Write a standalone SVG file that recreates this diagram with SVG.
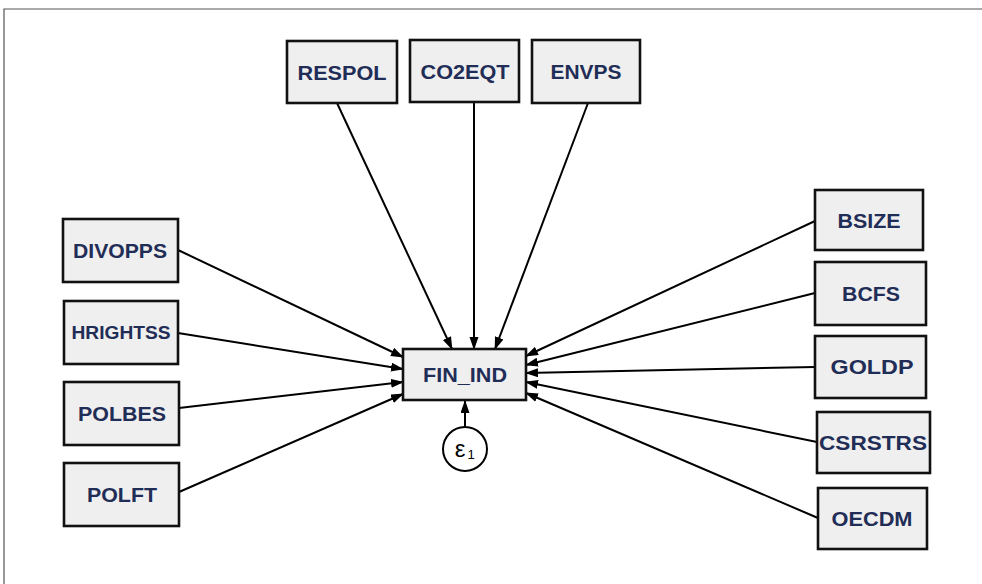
<svg xmlns="http://www.w3.org/2000/svg" width="982" height="584" viewBox="0 0 982 584">
  <style>
    .box { fill: #efefef; stroke: #111; stroke-width: 2.6; }
    .lbl { font-family: "Liberation Sans", Arial, sans-serif; font-weight: bold; font-size: 21px; fill: #1f2d57; text-anchor: middle; }
    .edge { stroke: #000; stroke-width: 2; fill: none; marker-end: url(#arrow); }
    .err { font-family: "Liberation Sans", Arial, sans-serif; fill: #000; }
  </style>
  <defs>
    <marker id="arrow" markerUnits="userSpaceOnUse" markerWidth="13" markerHeight="10" refX="12" refY="4.5" orient="auto">
      <path d="M0,0 L13,4.5 L0,9 z" fill="#000"/>
    </marker>
  </defs>

  <rect width="982" height="584" fill="#fff"/>
  <!-- outer frame -->
  <path d="M4,584 V9 H982" fill="none" stroke="#555" stroke-width="1.2"/>

  <g id="connectors">
    <line class="edge" x1="337" y1="103" x2="452" y2="349"/>
    <line class="edge" x1="474" y1="102" x2="474" y2="349"/>
    <line class="edge" x1="588" y1="103" x2="495" y2="349"/>
    <line class="edge" x1="178" y1="250" x2="403" y2="357"/>
    <line class="edge" x1="178" y1="333" x2="403" y2="369"/>
    <line class="edge" x1="179" y1="408" x2="403" y2="382"/>
    <line class="edge" x1="179" y1="492" x2="403" y2="394"/>
    <line class="edge" x1="815" y1="221" x2="526" y2="356"/>
    <line class="edge" x1="815" y1="293" x2="526" y2="365"/>
    <line class="edge" x1="815" y1="367" x2="526" y2="373"/>
    <line class="edge" x1="817" y1="442" x2="526" y2="382"/>
    <line class="edge" x1="818" y1="518" x2="526" y2="393"/>
    <line class="edge" x1="465" y1="427" x2="465" y2="401"/>
  </g>

  <g id="RESPOL"><rect class="box" x="287" y="41" width="110" height="62"/><text class="lbl" x="342" y="80" textLength="89" lengthAdjust="spacingAndGlyphs">RESPOL</text></g>
  <g id="CO2EQT"><rect class="box" x="410" y="40" width="109" height="62"/><text class="lbl" x="465" y="79" textLength="89" lengthAdjust="spacingAndGlyphs">CO2EQT</text></g>
  <g id="ENVPS"><rect class="box" x="532" y="40" width="108" height="63"/><text class="lbl" x="586" y="79" textLength="71" lengthAdjust="spacingAndGlyphs">ENVPS</text></g>

  <g id="DIVOPPS"><rect class="box" x="63" y="219" width="115" height="63"/><text class="lbl" x="120" y="258" textLength="94" lengthAdjust="spacingAndGlyphs">DIVOPPS</text></g>
  <g id="HRIGHTSS"><rect class="box" x="64" y="301" width="114" height="63"/><text class="lbl" x="121" y="339" style="font-size:19px" textLength="99" lengthAdjust="spacingAndGlyphs">HRIGHTSS</text></g>
  <g id="POLBES"><rect class="box" x="64" y="382" width="115" height="63"/><text class="lbl" x="122" y="421" textLength="88" lengthAdjust="spacingAndGlyphs">POLBES</text></g>
  <g id="POLFT"><rect class="box" x="64" y="463" width="115" height="63"/><text class="lbl" x="122" y="502" textLength="70" lengthAdjust="spacingAndGlyphs">POLFT</text></g>

  <g id="BSIZE"><rect class="box" x="815" y="190" width="108" height="60"/><text class="lbl" x="869" y="228" textLength="63" lengthAdjust="spacingAndGlyphs">BSIZE</text></g>
  <g id="BCFS"><rect class="box" x="815" y="262" width="111" height="63"/><text class="lbl" x="871" y="301" textLength="58" lengthAdjust="spacingAndGlyphs">BCFS</text></g>
  <g id="GOLDP"><rect class="box" x="815" y="336" width="111" height="62"/><text class="lbl" x="872" y="374" textLength="83" lengthAdjust="spacingAndGlyphs">GOLDP</text></g>
  <g id="CSRSTRS"><rect class="box" x="817" y="412" width="113" height="61"/><text class="lbl" x="873" y="450" textLength="108" lengthAdjust="spacingAndGlyphs">CSRSTRS</text></g>
  <g id="OECDM"><rect class="box" x="818" y="488" width="109" height="61"/><text class="lbl" x="872" y="526" textLength="81" lengthAdjust="spacingAndGlyphs">OECDM</text></g>

  <g id="FIN_IND"><rect class="box" x="403" y="349" width="123" height="51"/><text class="lbl" x="465" y="382" textLength="84" lengthAdjust="spacingAndGlyphs">FIN_IND</text></g>

  <g id="e1">
    <circle cx="465" cy="449" r="22" fill="#fff" stroke="#000" stroke-width="2"/>
    <text class="err" x="460" y="457" font-size="24" text-anchor="middle">ε</text>
    <text class="err" x="471" y="459" font-size="13" text-anchor="middle">1</text>
  </g>
</svg>
